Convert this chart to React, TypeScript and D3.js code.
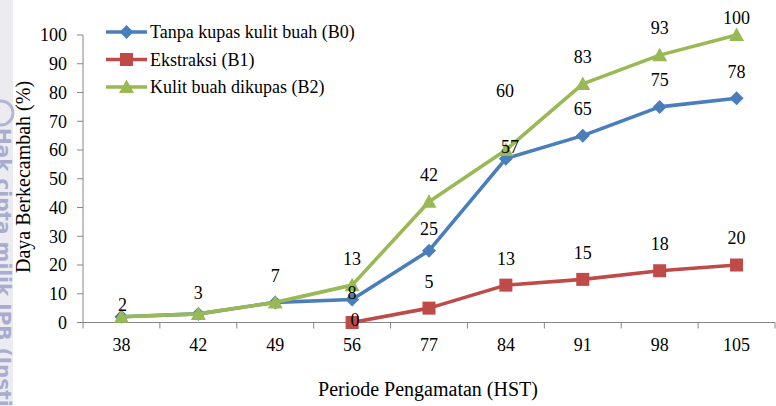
import React from "react";
import * as d3 from "d3";

const categories = ["38", "42", "49", "56", "77", "84", "91", "98", "105"];
const seriesNames = ["Tanpa kupas kulit buah (B0)", "Ekstraksi (B1)", "Kulit buah dikupas (B2)"];
const b0Values: (number | null)[] = [2, 3, 7, 8, 25, 57, 65, 75, 78];
const b1Values: (number | null)[] = [null, null, null, 0, 5, 13, 15, 18, 20];
const b2Values: (number | null)[] = [2, 3, 7, 13, 42, 60, 83, 93, 100];
const yTicks = [0, 10, 20, 30, 40, 50, 60, 70, 80, 90, 100];

// label placement (pixels above the point centre; null = hidden), dx shifts
const b0LabelLift: (number | null)[] = [12, 21, 27, 7, 22, 12, 27, 27, 27];
const b0LabelDx = [1, 0, 0, 0, 0, 4, 0, 0, 0];
const b1LabelLift: (number | null)[] = [null, null, null, 3, 26, 26, 27, 27, 27];
const b1LabelDx = [0, 0, 0, 3, 0, 0, 0, 0, 0];
const b2LabelLift: (number | null)[] = [null, null, null, 26, 27, 59, 27, 27, 17];
const b2LabelDx = [0, 0, 0, 0, 0, -1, 0, 0, 0];

const W = 776;
const H = 406;
const SERIF = "Liberation Serif, Times New Roman, DejaVu Serif, serif";
const AXIS = "#868686";
const COLORS = ["#4A7EBB", "#BE4B48", "#98B954"];
const SHAPES = ["diamond", "square", "triangle"];

function Marker({ shape, x, y, color }: { shape: string; x: number; y: number; color: string }) {
  if (shape === "diamond") {
    const r = 7;
    return <path d={`M${x},${y - r}L${x + r},${y}L${x},${y + r}L${x - r},${y}Z`} fill={color} />;
  }
  if (shape === "square") {
    const s = 6.5;
    return <rect x={x - s} y={y - s} width={2 * s} height={2 * s} fill={color} />;
  }
  const w = 7.5;
  return <path d={`M${x},${y - 7.5}L${x + w},${y + 6}L${x - w},${y + 6}Z`} fill={color} />;
}

const ts = (size: number): React.CSSProperties => ({ fontFamily: SERIF, fontSize: size });

export default function App() {
  const x = d3.scaleBand<string>().domain(categories).range([83, 775]).paddingInner(0).paddingOuter(0);
  const y = d3.scaleLinear().domain([0, 100]).range([322.5, 35]);
  const cx = (c: string) => (x(c) as number) + x.bandwidth() / 2;

  const series = [b0Values, b1Values, b2Values];
  const lifts = [b0LabelLift, b1LabelLift, b2LabelLift];
  const dxs = [b0LabelDx, b1LabelDx, b2LabelDx];

  const line = d3
    .line<[string, number | null]>()
    .defined((d) => d[1] !== null)
    .x((d) => cx(d[0]))
    .y((d) => y(d[1] as number));

  const boundaries = categories.map((c) => x(c) as number).concat([775]);

  return (
    <svg width={W} height={H} style={{ position: "absolute", left: 0, top: 0, background: "#fff" }}>
      {/* watermark strip */}
      <rect x={0} y={0} width={13} height={H} fill="#ececf0" />
      <circle cx={1} cy={113} r={12} fill="none" stroke="#8b8fbf" strokeWidth={3} opacity={0.6} />
      <text
        transform="translate(-3,128) rotate(90)"
        style={{ fontFamily: "DejaVu Sans, sans-serif", fontWeight: "bold", fontSize: 20 }}
        fill="#7d82b8"
        opacity={0.6}
      >
        Hak cipta milik IPB (Instit
      </text>

      {/* y axis */}
      <line x1={83} x2={83} y1={y(100)} y2={y(0)} stroke={AXIS} strokeWidth={1} />
      {yTicks.map((t) => (
        <g key={t}>
          <line x1={77} x2={83} y1={y(t)} y2={y(t)} stroke={AXIS} />
          <text x={67} y={y(t)} dy="0.35em" textAnchor="end" style={ts(18)} fill="#000">
            {t}
          </text>
        </g>
      ))}
      {/* x axis */}
      <line x1={83} x2={775} y1={y(0)} y2={y(0)} stroke={AXIS} />
      {boundaries.map((b, i) => (
        <line key={i} x1={b} x2={b} y1={y(0)} y2={y(0) + 6} stroke={AXIS} />
      ))}
      {categories.map((c) => (
        <text key={c} x={cx(c)} y={351} textAnchor="middle" style={ts(18)} fill="#000">
          {c}
        </text>
      ))}

      {/* titles */}
      <text x={428} y={396} textAnchor="middle" style={ts(20)} fill="#000">
        Periode Pengamatan (HST)
      </text>
      <text transform="translate(30,177) rotate(-90)" textAnchor="middle" style={ts(20)} fill="#000">
        Daya Berkecambah (%)
      </text>

      {/* series */}
      {series.map((vals, si) => {
        const pts = categories.map((c, i) => [c, vals[i]] as [string, number | null]);
        return (
          <g key={si}>
            <path d={line(pts) as string} fill="none" stroke={COLORS[si]} strokeWidth={3.6} strokeLinejoin="round" />
            {pts
              .filter((p) => p[1] !== null)
              .map((p) => (
                <Marker key={p[0]} shape={SHAPES[si]} x={cx(p[0])} y={y(p[1] as number)} color={COLORS[si]} />
              ))}
          </g>
        );
      })}

      {/* data labels */}
      {series.map((vals, si) =>
        categories.map((c, i) => {
          const v = vals[i];
          const lift = lifts[si][i];
          if (v === null || lift === null) return null;
          return (
            <text
              key={`${si}-${c}`}
              x={cx(c) + dxs[si][i]}
              y={y(v) - lift}
              dy="0.35em"
              textAnchor="middle"
              style={ts(18)}
              fill="#000"
            >
              {v}
            </text>
          );
        })
      )}

      {/* legend */}
      {seriesNames.map((name, i) => {
        const ly = 32 + i * 27.5;
        return (
          <g key={name}>
            <line x1={106} x2={147} y1={ly} y2={ly} stroke={COLORS[i]} strokeWidth={3.6} />
            <Marker shape={SHAPES[i]} x={126.5} y={ly} color={COLORS[i]} />
            <text x={150} y={ly} dy="0.35em" style={ts(18)} fill="#000">
              {name}
            </text>
          </g>
        );
      })}
    </svg>
  );
}
